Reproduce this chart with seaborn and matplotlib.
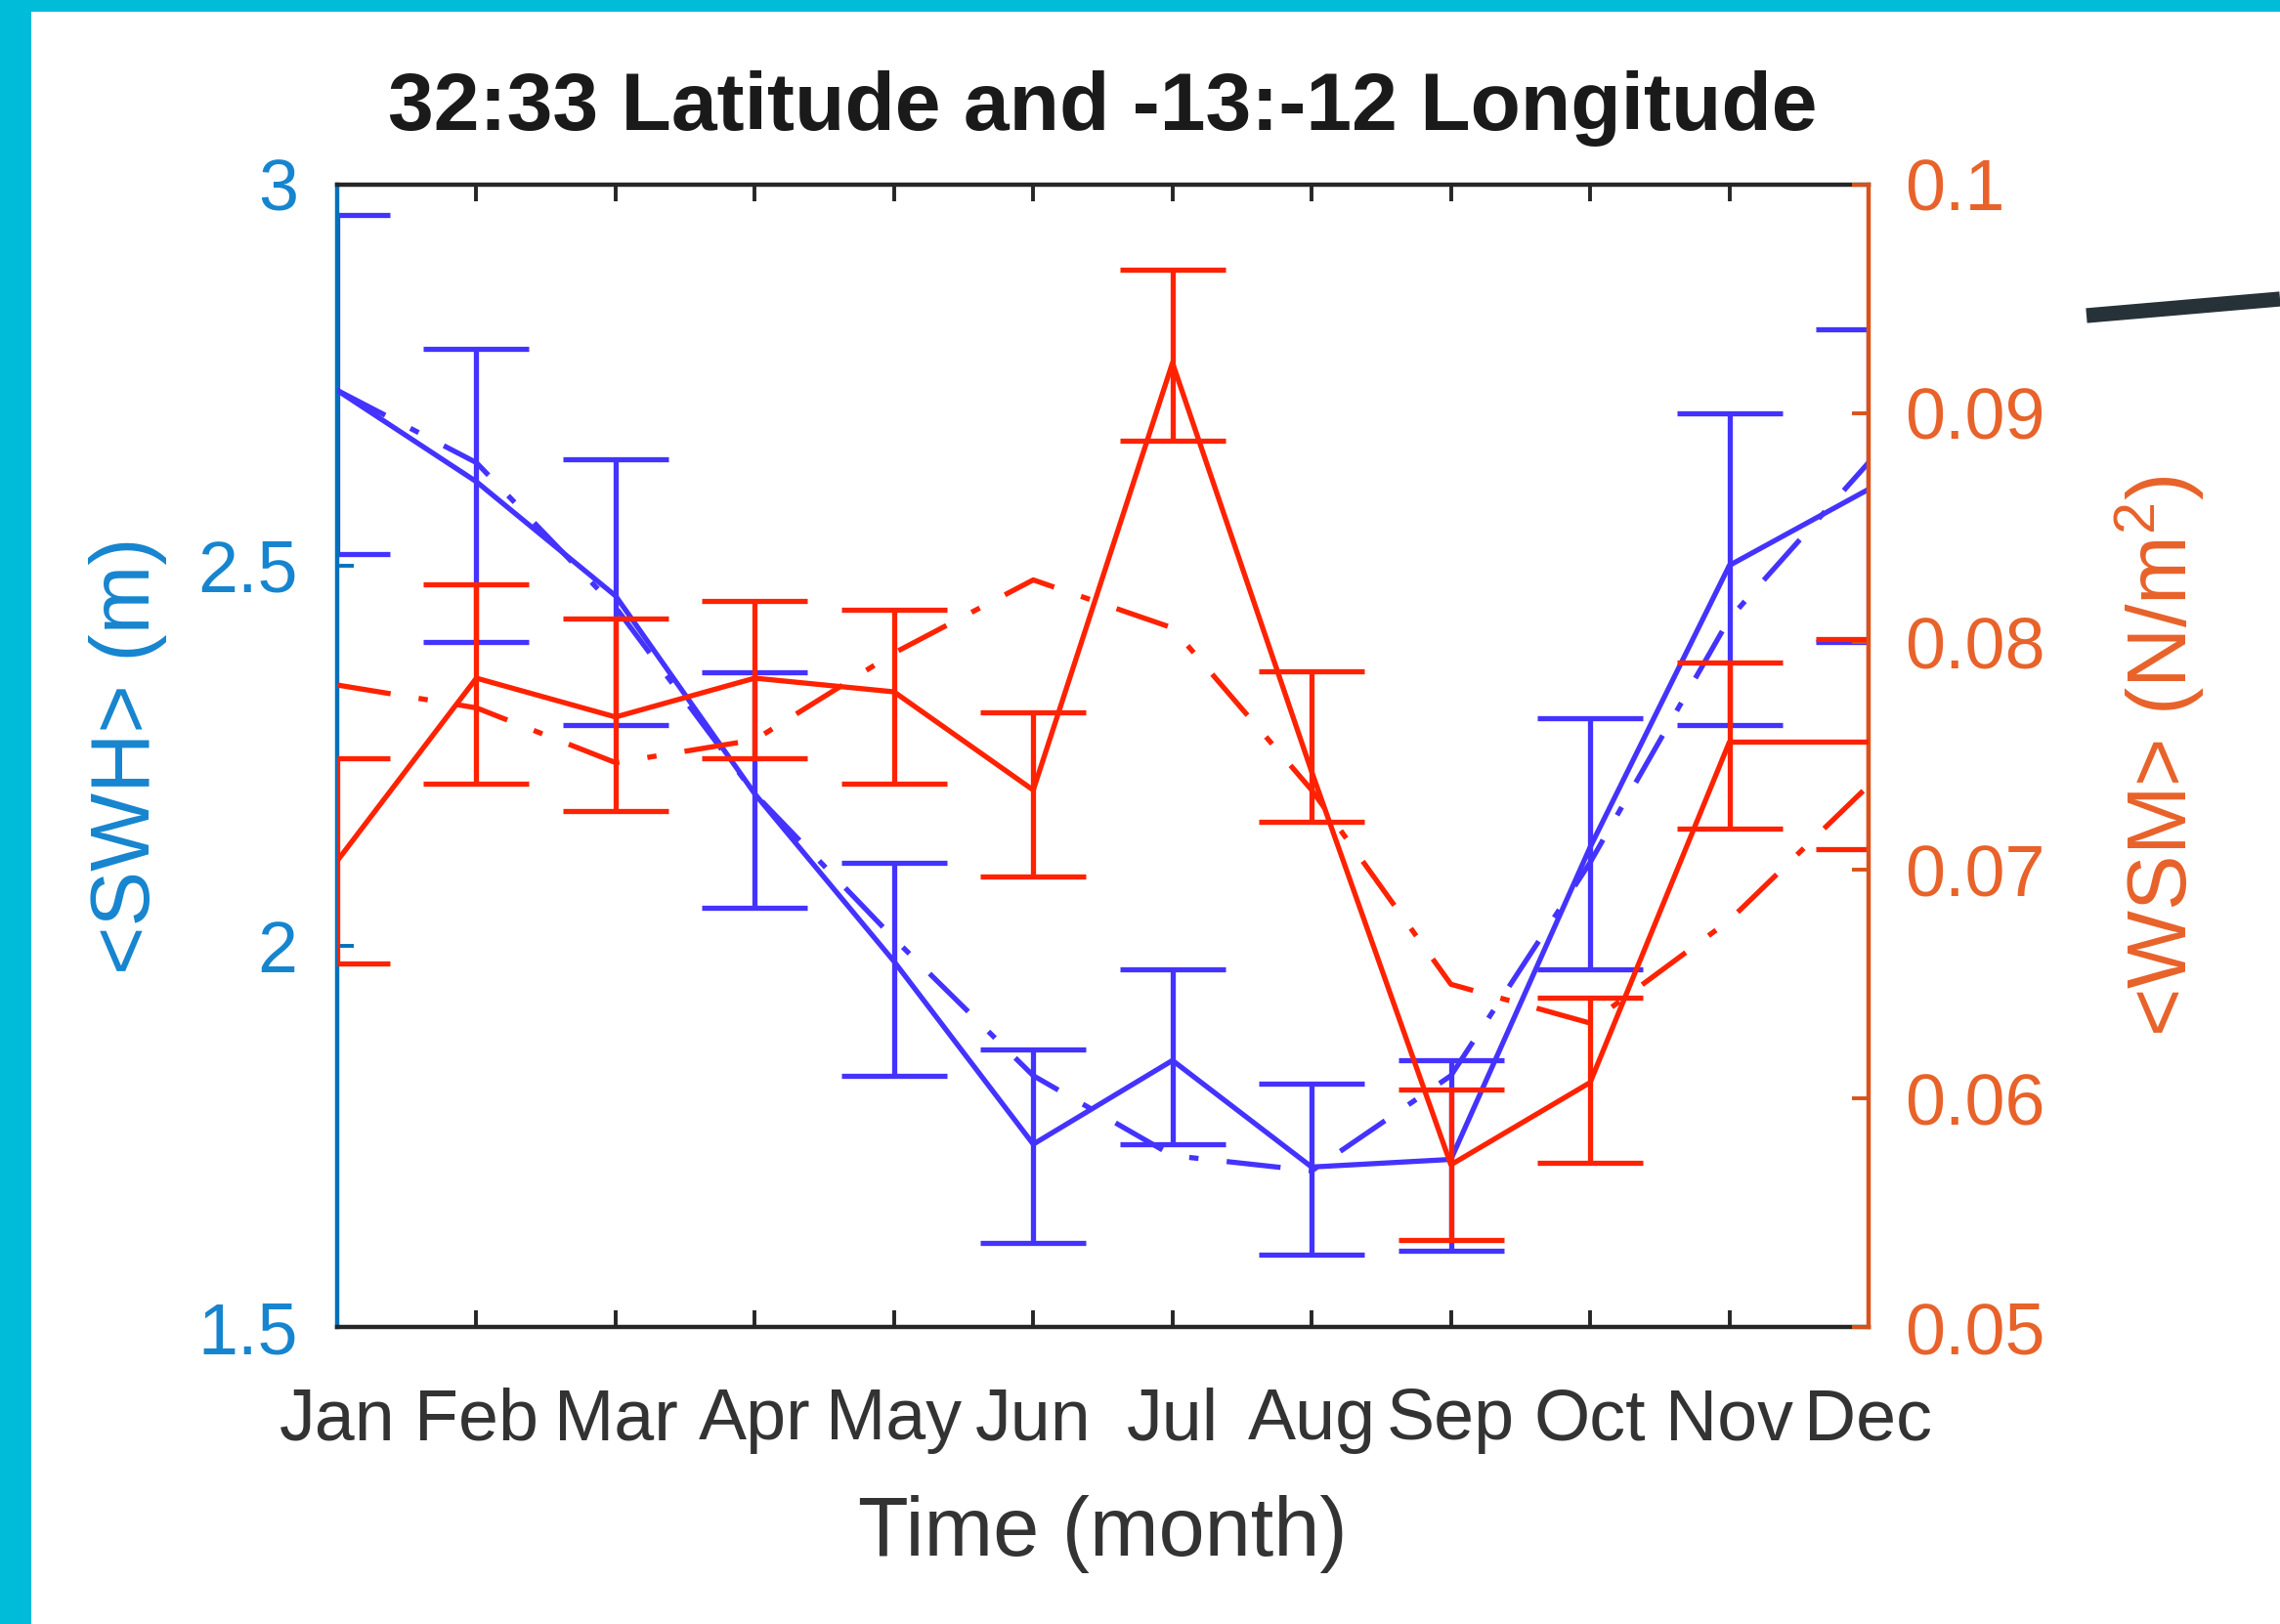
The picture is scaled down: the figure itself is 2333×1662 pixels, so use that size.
import matplotlib
matplotlib.use("Agg")
import matplotlib.pyplot as plt
from matplotlib.lines import Line2D
from matplotlib.patches import Rectangle
import seaborn as sns
import numpy as np

# ---------------- data ----------------
months = ['Jan', 'Feb', 'Mar', 'Apr', 'May', 'Jun', 'Jul', 'Aug', 'Sep', 'Oct', 'Nov', 'Dec']
month_num = [1, 2, 3, 4, 5, 6, 7, 8, 9, 10, 11, 12]

swh_mean = [2.73, 2.61, 2.46, 2.20, 1.98, 1.74, 1.85, 1.71, 1.72, 2.13, 2.50, 2.60]
swh_low = [2.515, 2.40, 2.29, 2.05, 1.83, 1.61, 1.74, 1.595, 1.60, 1.97, 2.29, 2.40]
swh_high = [2.96, 2.785, 2.64, 2.36, 2.11, 1.865, 1.97, 1.82, 1.85, 2.30, 2.70, 2.81]
swh_fit = [2.73, 2.635, 2.445, 2.20, 2.01, 1.83, 1.725, 1.705, 1.83, 2.11, 2.43, 2.635]

wsm_mean = [0.0704, 0.0784, 0.0767, 0.0784, 0.0778, 0.0735, 0.0922, 0.0743, 0.0571, 0.0607, 0.0756, 0.0756]
wsm_low = [0.0659, 0.0738, 0.0726, 0.0749, 0.0738, 0.0697, 0.0888, 0.0721, 0.0538, 0.0572, 0.0718, 0.0709]
wsm_high = [0.0749, 0.0825, 0.0810, 0.0818, 0.0814, 0.0769, 0.0963, 0.0787, 0.0604, 0.0644, 0.0791, 0.0801]
wsm_fit = [0.0781, 0.0771, 0.0747, 0.0757, 0.0795, 0.0827, 0.0806, 0.0735, 0.0650, 0.0633, 0.0678, 0.0737]

left_ticks = [1.5, 2, 2.5, 3]
left_ticklabels = ['1.5', '2', '2.5', '3']
right_ticks = [0.05, 0.06, 0.07, 0.08, 0.09, 0.1]
right_ticklabels = ['0.05', '0.06', '0.07', '0.08', '0.09', '0.1']

title = '32:33 Latitude and -13:-12 Longitude'
xlabel = 'Time (month)'
ylabel_left = '<SWH> (m)'
ylabel_right = '<WSM> (N/m$^2$)'

# ---------------- style ----------------
sns.set_theme(style='white')
plt.rcParams['font.family'] = ['Liberation Sans', 'DejaVu Sans']
plt.rcParams['mathtext.fontset'] = 'custom'
plt.rcParams['mathtext.rm'] = 'Liberation Sans'

BLUE = '#4433FF'
RED = '#FF2200'
AX_BLUE = '#0072BD'
AX_BLUE_TXT = '#1685CF'
AX_ORANGE = '#D95319'
AX_ORANGE_TXT = '#E8622A'
DARK = '#262626'
CYAN = '#00BCD9'

LW = 3.8
CAP = 39
TICK_FS = 53
LABEL_FS = 61
TITLE_FS = 60.5
dashdot = (0, (10.5, 5.5, 1.8, 5.5))

W, H = 2333, 1662
fig = plt.figure(figsize=(W / 100, H / 100), dpi=100)
fig.patch.set_facecolor('white')

# axes placement (pixels)
left_px, right_px, top_px, bottom_px = 345, 1912, 189, 1358
ax1 = fig.add_axes([left_px / W, 1 - bottom_px / H, (right_px - left_px) / W, (bottom_px - top_px) / H])
ax1.set_facecolor('white')
ax2 = ax1.twinx()

# ---------------- SWH (left axis) ----------------
swh_err = [np.array(swh_mean) - np.array(swh_low), np.array(swh_high) - np.array(swh_mean)]
ax1.errorbar(month_num, swh_mean, yerr=swh_err, fmt='none', ecolor=BLUE,
             elinewidth=LW, capsize=CAP, capthick=LW, zorder=2)
sns.lineplot(x=month_num, y=swh_mean, ax=ax1, color=BLUE, linewidth=LW,
             estimator=None, sort=False, zorder=3)
sns.lineplot(x=month_num, y=swh_fit, ax=ax1, color=BLUE, linewidth=LW,
             linestyle=dashdot, estimator=None, sort=False, zorder=3)

# ---------------- WSM (right axis) ----------------
wsm_err = [np.array(wsm_mean) - np.array(wsm_low), np.array(wsm_high) - np.array(wsm_mean)]
ax2.errorbar(month_num, wsm_mean, yerr=wsm_err, fmt='none', ecolor=RED,
             elinewidth=LW, capsize=CAP, capthick=LW, zorder=2)
sns.lineplot(x=month_num, y=wsm_mean, ax=ax2, color=RED, linewidth=LW,
             estimator=None, sort=False, zorder=3)
sns.lineplot(x=month_num, y=wsm_fit, ax=ax2, color=RED, linewidth=LW,
             linestyle=dashdot, estimator=None, sort=False, zorder=3)

# ---------------- axes cosmetics ----------------
ax1.set_xlim(1, 12)
ax1.set_ylim(1.5, 3)
ax2.set_ylim(0.05, 0.1)

ax1.set_xticks(month_num)
ax1.set_xticklabels(months)
ax1.set_yticks(left_ticks)
ax1.set_yticklabels(left_ticklabels)
ax2.set_yticks(right_ticks)
ax2.set_yticklabels(right_ticklabels)

for sp in ['top', 'bottom']:
    ax1.spines[sp].set_color(DARK)
    ax1.spines[sp].set_linewidth(3.2)
ax1.spines['left'].set_color(AX_BLUE)
ax1.spines['left'].set_linewidth(3.2)
ax1.spines['right'].set_visible(False)
for sp in ['top', 'bottom', 'left']:
    ax2.spines[sp].set_visible(False)
ax2.spines['right'].set_color(AX_ORANGE)
ax2.spines['right'].set_linewidth(3.2)

ax1.tick_params(axis='x', which='both', direction='in', top=True, bottom=True,
                length=12, width=2.8, color=DARK, labelsize=TICK_FS,
                labelcolor='#333333', pad=44)
ax1.tick_params(axis='y', direction='in', left=True, right=False, length=12,
                width=2.8, color=AX_BLUE, labelsize=TICK_FS, labelcolor=AX_BLUE_TXT, pad=29)
ax2.tick_params(axis='y', direction='in', left=False, right=True, length=12,
                width=2.8, color=AX_ORANGE, labelsize=TICK_FS, labelcolor=AX_ORANGE_TXT, pad=27)
ax1.grid(False)
ax2.grid(False)

ax1.set_title(title, fontsize=TITLE_FS, fontweight='bold', color='#1a1a1a', pad=40)
ax1.set_xlabel(xlabel, fontsize=LABEL_FS, color='#333333')
ax1.xaxis.set_label_coords(0.5, -0.181)
ax1.xaxis.label.set_va('center')
ax1.set_ylabel(ylabel_left, fontsize=LABEL_FS, color=AX_BLUE_TXT)
ax1.yaxis.set_label_coords(-0.1366, 0.5)
ax1.yaxis.label.set_va('center')
ax2.set_ylabel(ylabel_right, fontsize=LABEL_FS, color=AX_ORANGE_TXT)
ax2.yaxis.set_label_coords(1.190, 0.5)
ax2.yaxis.label.set_va('center')

# ---------------- slide decorations ----------------
fig.patches.append(Rectangle((0, 0), 32 / W, 1, transform=fig.transFigure,
                             facecolor=CYAN, edgecolor='none', zorder=10))
fig.patches.append(Rectangle((0, 1 - 12 / H), 1, 12 / H, transform=fig.transFigure,
                             facecolor=CYAN, edgecolor='none', zorder=10))
fig.add_artist(Line2D([2135 / W, 1.0], [1 - 323 / H, 1 - 306 / H], color='#263238',
                      linewidth=11, solid_capstyle='butt'))

fig.savefig('out.png', dpi=100, facecolor='white')
